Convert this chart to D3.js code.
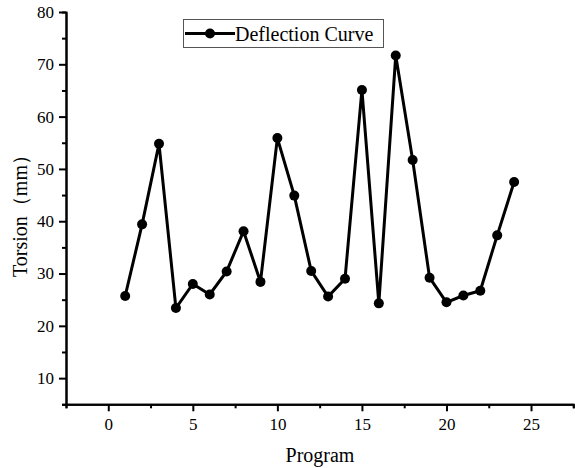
<!DOCTYPE html>
<html>
  <head>
    <script src="https://d3js.org/d3.v7.min.js"></script>
    <style>
      body { margin: 0; background: #fff; }
      .axis path, .axis line { stroke: #000; stroke-width: 2px; }
    </style>
  </head>
  <body>
    <svg id="chart" width="575" height="468"></svg>
    <script>
      // data
      const programs = [1, 2, 3, 4, 5, 6, 7, 8, 9, 10, 11, 12, 13, 14, 15, 16, 17, 18, 19, 20, 21, 22, 23, 24];
      const torsion = [25.7, 39.4, 54.8, 23.4, 28.0, 26.0, 30.4, 38.1, 28.4, 55.9, 44.9, 30.5,
                       25.6, 29.0, 65.1, 24.3, 71.7, 51.7, 29.2, 24.5, 25.8, 26.7, 37.3, 47.5];
      const xTicks = [0, 5, 10, 15, 20, 25];
      const xMinor = [-2.5, 2.5, 7.5, 12.5, 17.5, 22.5, 27.5];
      const yTicks = [10, 20, 30, 40, 50, 60, 70, 80];
      const yMinor = [5, 15, 25, 35, 45, 55, 65, 75];
      const seriesName = "Deflection Curve";

      const serif = "'Liberation Serif', 'Times New Roman', serif";
      const svg = d3.select("#chart");
      const margin = {top: 12, right: 1.7, bottom: 63.7, left: 66};
      const W = 575, H = 468;

      const x = d3.scaleLinear().domain([-2.5, 27.5]).range([margin.left, W - margin.right]);
      const y = d3.scaleLinear().domain([5, 80]).range([H - margin.bottom, margin.top]);

      // minor ticks first, then major ones with labels
      svg.append("g").attr("class", "axis")
        .attr("transform", `translate(0,${y(5)})`)
        .call(d3.axisBottom(x).tickValues(xMinor).tickSize(4).tickFormat(""));
      svg.append("g").attr("class", "axis")
        .attr("transform", `translate(0,${y(5)})`)
        .call(d3.axisBottom(x).tickValues(xTicks).tickSize(7).tickSizeOuter(0).tickPadding(7).tickFormat(d3.format("d")));

      svg.append("g").attr("class", "axis")
        .attr("transform", `translate(${x(-2.5)},0)`)
        .call(d3.axisLeft(y).tickValues(yMinor).tickSize(4).tickFormat(""));
      svg.append("g").attr("class", "axis")
        .attr("transform", `translate(${x(-2.5)},0)`)
        .call(d3.axisLeft(y).tickValues(yTicks).tickSize(7).tickSizeOuter(0).tickPadding(5).tickFormat(d3.format("d")));

      svg.selectAll(".axis text")
        .style("font-family", serif)
        .style("font-size", "17px")
        .attr("fill", "#000");

      // the curve
      const line = d3.line()
        .x((d, i) => x(programs[i]))
        .y(d => y(d));

      svg.append("path")
        .datum(torsion)
        .attr("fill", "none")
        .attr("stroke", "#000")
        .attr("stroke-width", 3)
        .attr("d", line);

      svg.selectAll("circle.pt")
        .data(torsion)
        .join("circle")
          .attr("class", "pt")
          .attr("cx", (d, i) => x(programs[i]))
          .attr("cy", d => y(d))
          .attr("r", 5)
          .attr("fill", "#000");

      // axis titles
      svg.append("text")
        .attr("x", 320)
        .attr("y", 462)
        .attr("text-anchor", "middle")
        .style("font-family", serif)
        .style("font-size", "20px")
        .text("Program");

      svg.append("text")
        .attr("transform", "translate(27,211) rotate(-90)")
        .attr("text-anchor", "middle")
        .style("font-family", serif)
        .style("font-size", "20px")
        .text("Torsion（mm）");

      // legend
      const lg = svg.append("g");
      lg.append("rect")
        .attr("x", 183.5).attr("y", 19.5)
        .attr("width", 200).attr("height", 28)
        .attr("fill", "#fff")
        .attr("stroke", "#555")
        .attr("stroke-width", 1);
      lg.append("line")
        .attr("x1", 185).attr("x2", 235)
        .attr("y1", 33.5).attr("y2", 33.5)
        .attr("stroke", "#000").attr("stroke-width", 3);
      lg.append("circle")
        .attr("cx", 210).attr("cy", 33.5).attr("r", 5).attr("fill", "#000");
      lg.append("text")
        .attr("x", 235).attr("y", 41)
        .style("font-family", serif)
        .style("font-size", "20px")
        .text(seriesName);
    </script>
  </body>
</html>
